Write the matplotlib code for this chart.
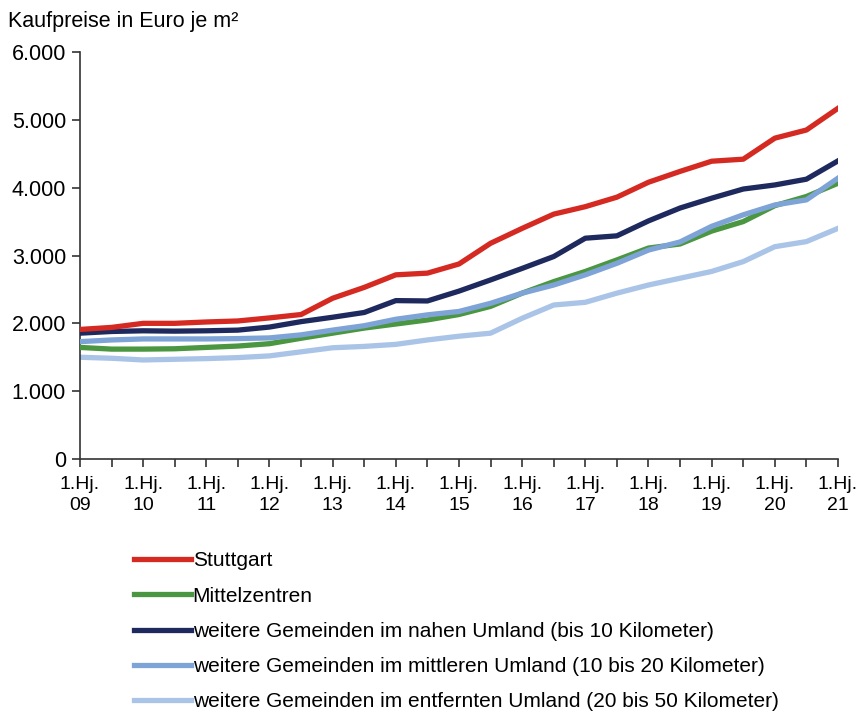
import matplotlib
matplotlib.use("Agg")
import matplotlib.pyplot as plt
from matplotlib.ticker import FuncFormatter

plt.rcParams['font.family'] = ['Liberation Sans', 'DejaVu Sans']

# Halbjahre 1.Hj. 2009 bis 1.Hj. 2021
years = ["09", "10", "11", "12", "13", "14", "15", "16", "17", "18", "19", "20", "21"]
stuttgart = [1910, 1940, 2000, 2000, 2020, 2035, 2080, 2130, 2370, 2530, 2715, 2740, 2875,
             3180, 3400, 3610, 3720, 3860, 4080, 4240, 4390, 4420, 4730, 4850, 5170]
mittelzentren = [1645, 1620, 1620, 1625, 1645, 1665, 1700, 1780, 1855, 1930, 1990, 2050, 2130,
                 2250, 2445, 2615, 2765, 2935, 3110, 3170, 3360, 3500, 3735, 3870, 4065]
nahes = [1855, 1880, 1890, 1885, 1890, 1900, 1945, 2025, 2090, 2160, 2335, 2330, 2475,
         2640, 2810, 2985, 3255, 3290, 3510, 3700, 3845, 3980, 4040, 4125, 4395]
mittleres = [1730, 1755, 1770, 1770, 1770, 1775, 1785, 1830, 1900, 1965, 2060, 2125, 2175,
             2295, 2445, 2565, 2715, 2885, 3080, 3200, 3430, 3600, 3745, 3820, 4140]
entferntes = [1500, 1485, 1460, 1470, 1480, 1495, 1520, 1580, 1640, 1660, 1690, 1755, 1810,
              1855, 2075, 2270, 2310, 2445, 2565, 2665, 2765, 2910, 3130, 3205, 3400]

labels = ["Stuttgart", "Mittelzentren",
          "weitere Gemeinden im nahen Umland (bis 10 Kilometer)",
          "weitere Gemeinden im mittleren Umland (10 bis 20 Kilometer)",
          "weitere Gemeinden im entfernten Umland (20 bis 50 Kilometer)"]
colors = ["#d52a22", "#4b9640", "#1e2a5e", "#7ea3d6", "#aac4e8"]
series = [stuttgart, mittelzentren, nahes, mittleres, entferntes]
zorders = [6, 3, 5, 4, 2]

fig = plt.figure(figsize=(8.62, 7.16), dpi=100)
ax = fig.add_axes([80 / 862, 1 - 459 / 716, 758 / 862, 407 / 716])

x = list(range(len(stuttgart)))
for vals, lab, col, z in zip(series, labels, colors, zorders):
    ax.plot(x, vals, color=col, lw=3.8, label=lab, zorder=z, solid_joinstyle="round")

ax.set_xlim(0, len(stuttgart) - 1)
ax.set_ylim(0, 6000)
ax.set_yticks(range(0, 6001, 1000))
ax.yaxis.set_major_formatter(FuncFormatter(lambda v, p: f"{int(v):,}".replace(",", ".")))
ax.set_xticks(x)
ax.set_xticklabels(["1.Hj.\n" + years[i // 2] if i % 2 == 0 else "" for i in x],
                   fontsize=14, linespacing=1.3)

for s in ["top", "right"]:
    ax.spines[s].set_visible(False)
for s in ["left", "bottom"]:
    ax.spines[s].set_color("#333333")
    ax.spines[s].set_linewidth(1.2)
ax.tick_params(axis="both", direction="out", length=6, width=1.2, color="#333333", pad=4)
ax.tick_params(axis="y", labelsize=15.5)
ax.tick_params(axis="x", pad=6)

fig.text(8 / 862, 1 - 21 / 716, "Kaufpreise in Euro je m²", fontsize=15.5, va="center", ha="left")

fig.legend(loc="upper left", bbox_to_anchor=(126 / 862, 1 - 543 / 716), frameon=False,
           fontsize=15, handlelength=2.7, handletextpad=0.1, labelspacing=0.78,
           borderaxespad=0)

fig.savefig("out.png", dpi=100)
